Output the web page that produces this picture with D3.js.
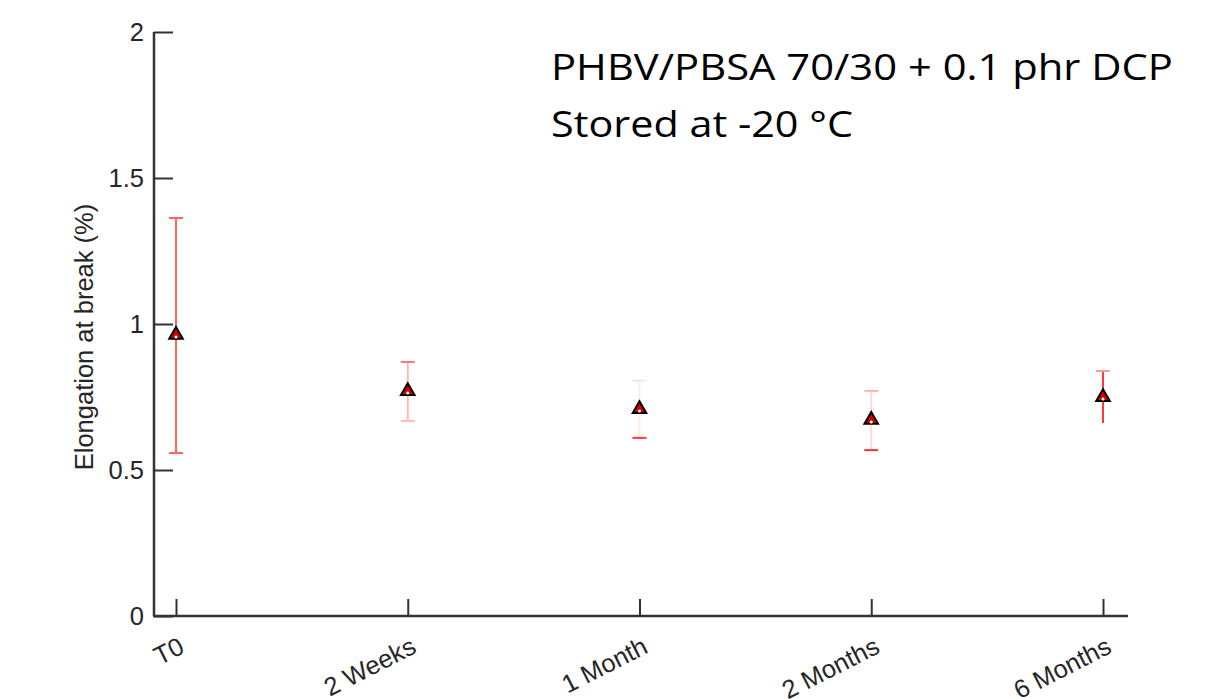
<!DOCTYPE html>
<html><head><meta charset="utf-8">
<script src="https://cdn.jsdelivr.net/npm/d3@7"></script>
<style>html,body{margin:0;padding:0;background:#fff;overflow:hidden}</style>
</head><body>
<svg id="c" width="1205" height="699"></svg>
<script>
const categories = ["T0", "2 Weeks", "1 Month", "2 Months", "6 Months"];
const means = [0.966, 0.774, 0.712, 0.675, 0.753];
const upper = [1.363, 0.870, 0.806, 0.771, 0.839];
const lower = [0.558, 0.668, 0.610, 0.568, 0.661];
const yTicks = [0, 0.5, 1, 1.5, 2];
const yTickLabels = ["0", "0.5", "1", "1.5", "2"];
const yLabel = "Elongation at break (%)";
const noteLines = ["PHBV/PBSA 70/30 + 0.1 phr DCP", "Stored at -20 °C"];

// styles (per bar: upper cap, upper stem, lower stem, lower cap)
const capTopColor = ["#ff6262", "#ff7474", "#ffe2e2", "#ffb3b3", "#ff9a9a"];
const stemTopColor = ["#ff6262", "#ffb8b8", "#ffeaea", "#ffd8d8", "#ff3a3a"];
const stemBotColor = ["#ff6262", "#ffb8b8", "#ffeaea", "#ffd8d8", "#ff3a3a"];
const capBotColor = ["#ff6262", "#ffb8b8", "#ff3a3a", "#ff3030", "none"];

const svg = d3.select("#c");
const x0 = 154, x1 = 1128, yTop = 32, yBot = 616;
const x = d3.scalePoint().domain(categories).range([176, 1103]);
const y = d3.scaleLinear().domain([0, 2]).range([yBot, yTop]);
const axisColor = "#333";
const font = "Liberation Sans, Arial, sans-serif";
const fs = 25.5;

// y axis
const ya = svg.append("g").attr("transform", `translate(${x0},0)`)
  .call(d3.axisRight(y).tickValues(yTicks).tickSize(19).tickFormat(""));
ya.select(".domain").remove();
ya.selectAll(".tick line").attr("stroke", axisColor).attr("stroke-width", 2);
svg.append("line").attr("x1", x0).attr("x2", x0).attr("y1", yTop).attr("y2", yBot)
  .attr("stroke", axisColor).attr("stroke-width", 2.5);
svg.append("g").selectAll("text").data(yTicks).join("text")
  .attr("x", 144).attr("y", d => y(d)).attr("dy", "0.35em")
  .attr("text-anchor", "end").attr("font-family", font)
  .attr("font-size", fs).attr("fill", "#262626")
  .text((d,i) => yTickLabels[i]);
svg.append("text")
  .attr("transform", `translate(93,337) rotate(-90)`)
  .attr("text-anchor", "middle").attr("font-family", font)
  .attr("font-size", fs).attr("fill", "#262626").text(yLabel);

// x axis
const xa = svg.append("g").attr("transform", `translate(0,${yBot})`)
  .call(d3.axisTop(x).tickSize(17).tickFormat(""));
xa.select(".domain").remove();
xa.selectAll(".tick line").attr("stroke", axisColor).attr("stroke-width", 2);
svg.append("line").attr("x1", x0 - 1).attr("x2", x1).attr("y1", yBot).attr("y2", yBot)
  .attr("stroke", axisColor).attr("stroke-width", 2.5);
svg.append("g").selectAll("text").data(categories).join("text")
  .attr("transform", d => `translate(${x(d) + 10},${yBot + 36}) rotate(-27)`)
  .attr("text-anchor", "end").attr("font-family", font)
  .attr("font-size", fs).attr("fill", "#262626").text(d => d);

// error bars
const cap = 7;
const g = svg.append("g");
categories.forEach((c, i) => {
  const cx = x(c);
  g.append("line").attr("x1", cx).attr("x2", cx).attr("y1", y(upper[i])).attr("y2", y(means[i]))
    .attr("stroke", stemTopColor[i]).attr("stroke-width", 2);
  g.append("line").attr("x1", cx).attr("x2", cx).attr("y1", y(means[i])).attr("y2", y(lower[i]))
    .attr("stroke", stemBotColor[i]).attr("stroke-width", 2);
  g.append("line").attr("x1", cx - cap).attr("x2", cx + cap).attr("y1", y(upper[i])).attr("y2", y(upper[i]))
    .attr("stroke", capTopColor[i]).attr("stroke-width", 2);
  g.append("line").attr("x1", cx - cap).attr("x2", cx + cap).attr("y1", y(lower[i])).attr("y2", y(lower[i]))
    .attr("stroke", capBotColor[i]).attr("stroke-width", 2);
});

// markers
const tri = d3.symbol().type(d3.symbolTriangle).size(80);
svg.append("g").selectAll("path").data(means).join("path")
  .attr("transform", (d,i) => `translate(${x(categories[i])},${y(d)+1})`)
  .attr("d", tri).attr("fill", "#d40000").attr("stroke", "#000").attr("stroke-width", 2);
svg.append("g").selectAll("circle").data(means).join("circle")
  .attr("cx", (d,i) => x(categories[i])).attr("cy", d => y(d) + 3).attr("r", 1.5).attr("fill", "#fff");

// annotation
const note = svg.append("g").attr("font-family", "Open Sans, sans-serif").attr("font-size", 37).attr("fill", "#000");
note.append("text").attr("x", 551).attr("y", 80).attr("textLength", 622).attr("lengthAdjust", "spacingAndGlyphs").text(noteLines[0]);
note.append("text").attr("x", 551).attr("y", 137).attr("textLength", 302).attr("lengthAdjust", "spacingAndGlyphs").text(noteLines[1]);
</script>
</body></html>
